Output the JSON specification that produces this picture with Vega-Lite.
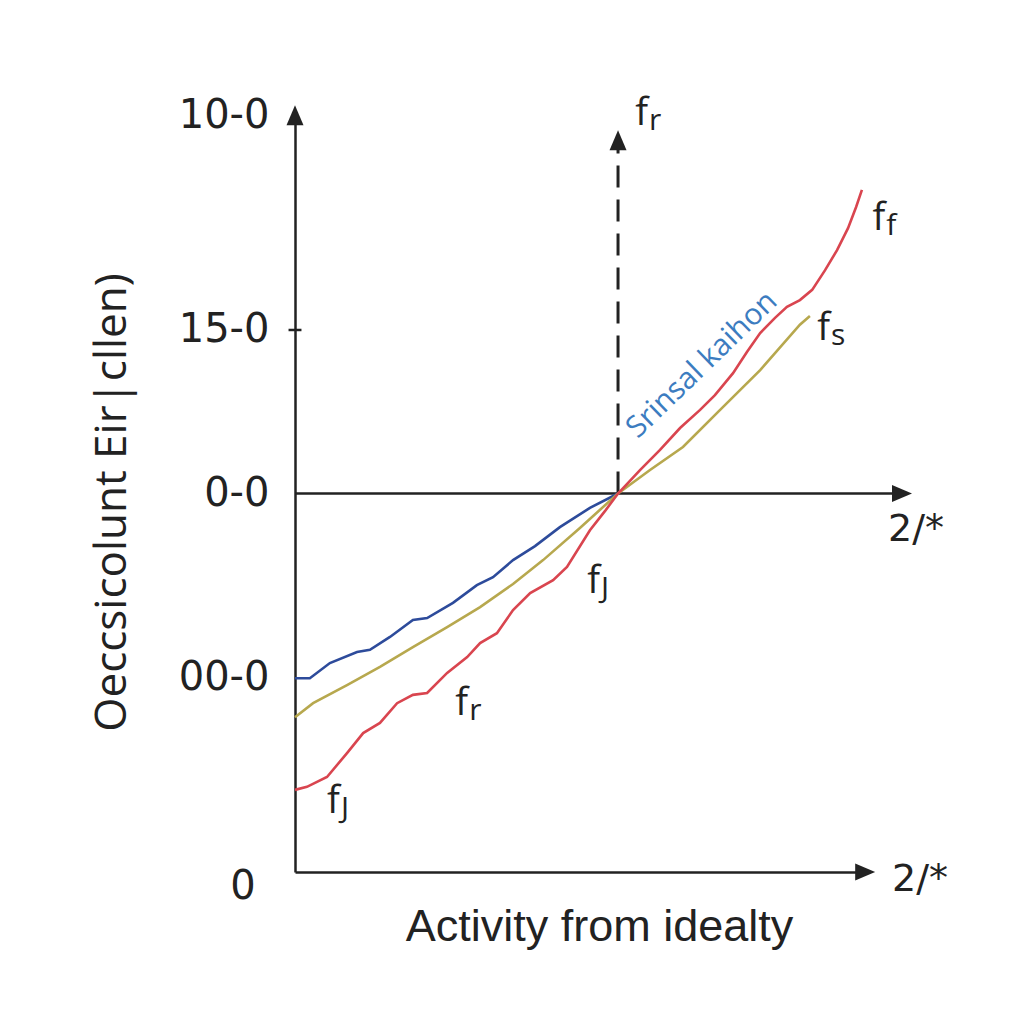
{
  "$schema": "https://vega.github.io/schema/vega-lite/v6.json",
  "width": 575,
  "height": 757,
  "autosize": {"type": "none"},
  "padding": {"left": 295, "top": 115, "right": 154, "bottom": 152},
  "background": "#ffffff",
  "config": {"view": {"stroke": null}},
  "datasets": {
    "lines": [
      {"series": "blue", "x": 0.0, "y": -0.488},
      {"series": "blue", "x": 0.046, "y": -0.488},
      {"series": "blue", "x": 0.108, "y": -0.448},
      {"series": "blue", "x": 0.192, "y": -0.419},
      {"series": "blue", "x": 0.232, "y": -0.413},
      {"series": "blue", "x": 0.294, "y": -0.379},
      {"series": "blue", "x": 0.365, "y": -0.334},
      {"series": "blue", "x": 0.409, "y": -0.329},
      {"series": "blue", "x": 0.489, "y": -0.289},
      {"series": "blue", "x": 0.563, "y": -0.242},
      {"series": "blue", "x": 0.613, "y": -0.221},
      {"series": "blue", "x": 0.675, "y": -0.176},
      {"series": "blue", "x": 0.743, "y": -0.139},
      {"series": "blue", "x": 0.82, "y": -0.089},
      {"series": "blue", "x": 0.913, "y": -0.038},
      {"series": "blue", "x": 1.0, "y": 0.0},
      {"series": "olive", "x": 0.0, "y": -0.591},
      {"series": "olive", "x": 0.056, "y": -0.554},
      {"series": "olive", "x": 0.161, "y": -0.506},
      {"series": "olive", "x": 0.263, "y": -0.458},
      {"series": "olive", "x": 0.365, "y": -0.406},
      {"series": "olive", "x": 0.471, "y": -0.353},
      {"series": "olive", "x": 0.573, "y": -0.3},
      {"series": "olive", "x": 0.675, "y": -0.239},
      {"series": "olive", "x": 0.768, "y": -0.176},
      {"series": "olive", "x": 0.882, "y": -0.091},
      {"series": "olive", "x": 1.0, "y": 0.0},
      {"series": "olive", "x": 1.099, "y": 0.062},
      {"series": "olive", "x": 1.201, "y": 0.123},
      {"series": "olive", "x": 1.316, "y": 0.221},
      {"series": "olive", "x": 1.44, "y": 0.326},
      {"series": "olive", "x": 1.563, "y": 0.446},
      {"series": "olive", "x": 1.594, "y": 0.469},
      {"series": "red", "x": 0.0, "y": -0.783},
      {"series": "red", "x": 0.037, "y": -0.775},
      {"series": "red", "x": 0.099, "y": -0.749},
      {"series": "red", "x": 0.161, "y": -0.686},
      {"series": "red", "x": 0.211, "y": -0.633},
      {"series": "red", "x": 0.263, "y": -0.606},
      {"series": "red", "x": 0.316, "y": -0.554},
      {"series": "red", "x": 0.365, "y": -0.532},
      {"series": "red", "x": 0.409, "y": -0.527},
      {"series": "red", "x": 0.471, "y": -0.474},
      {"series": "red", "x": 0.533, "y": -0.432},
      {"series": "red", "x": 0.573, "y": -0.395},
      {"series": "red", "x": 0.625, "y": -0.369},
      {"series": "red", "x": 0.675, "y": -0.308},
      {"series": "red", "x": 0.728, "y": -0.263},
      {"series": "red", "x": 0.799, "y": -0.229},
      {"series": "red", "x": 0.842, "y": -0.194},
      {"series": "red", "x": 0.913, "y": -0.097},
      {"series": "red", "x": 0.96, "y": -0.046},
      {"series": "red", "x": 1.0, "y": 0.0},
      {"series": "red", "x": 1.068, "y": 0.062},
      {"series": "red", "x": 1.13, "y": 0.115},
      {"series": "red", "x": 1.192, "y": 0.173},
      {"series": "red", "x": 1.254, "y": 0.221},
      {"series": "red", "x": 1.3, "y": 0.26},
      {"series": "red", "x": 1.356, "y": 0.318},
      {"series": "red", "x": 1.399, "y": 0.374},
      {"series": "red", "x": 1.44, "y": 0.424},
      {"series": "red", "x": 1.486, "y": 0.464},
      {"series": "red", "x": 1.523, "y": 0.493},
      {"series": "red", "x": 1.563, "y": 0.511},
      {"series": "red", "x": 1.601, "y": 0.538},
      {"series": "red", "x": 1.641, "y": 0.59},
      {"series": "red", "x": 1.678, "y": 0.643},
      {"series": "red", "x": 1.712, "y": 0.701},
      {"series": "red", "x": 1.737, "y": 0.757},
      {"series": "red", "x": 1.755, "y": 0.802}
    ],
    "hrules": [
      {"x": 0, "x2": 1.889, "y": 0},
      {"x": -0.02, "x2": 0.02, "y": 0.432}
    ],
    "dashed": [{"x": 1.0, "y": 0.0, "y2": 0.91}],
    "upArrows": [{"x": 0.0, "y": 1.026}, {"x": 1.0, "y": 0.96}],
    "rightArrows": [{"x": 1.91, "y": 0.0}, {"x": 1.796, "y": -1.0}],
    "flabels": [
      {"x": 1.093, "y": 0.974, "main": "f", "sub": "r"},
      {"x": 1.827, "y": 0.696, "main": "f", "sub": "f"},
      {"x": 1.656, "y": 0.406, "main": "f", "sub": "s"},
      {"x": 0.944, "y": -0.263, "main": "f", "sub": "J"},
      {"x": 0.536, "y": -0.585, "main": "f", "sub": "r"},
      {"x": 0.139, "y": -0.844, "main": "f", "sub": "J"}
    ],
    "endLabels": [
      {"x": 1.836, "y": -0.097, "label": "2/*"},
      {"x": 1.848, "y": -1.021, "label": "2/*"}
    ],
    "zero": [{"x": -0.161, "y": -1.04, "label": "0"}],
    "curveLabel": [{"x": 1.26, "y": 0.34, "label": "Srinsal kaihon"}]
  },
  "encoding": {
    "x": {
      "field": "x",
      "type": "quantitative",
      "scale": {"domain": [0, 1.78], "nice": false, "zero": false},
      "axis": {
        "domain": true,
        "domainColor": "#222222",
        "domainWidth": 2.5,
        "ticks": false,
        "labels": false,
        "grid": false,
        "title": "Activity from idealty",
        "titleFont": "Liberation Sans",
        "titleFontSize": 45,
        "titleFontWeight": "normal",
        "titleColor": "#222222",
        "titleX": 304,
        "titleY": 68,
        "titleAlign": "center",
        "titleBaseline": "alphabetic"
      }
    },
    "y": {
      "field": "y",
      "type": "quantitative",
      "scale": {"domain": [-1, 1], "nice": false, "zero": false},
      "axis": {
        "domain": true,
        "domainColor": "#222222",
        "domainWidth": 2.5,
        "ticks": false,
        "tickSize": 0,
        "grid": false,
        "values": [1, 0.432, 0, -0.485],
        "labelExpr": "datum.value == 1 ? '10-0' : datum.value == 0.432 ? '15-0' : datum.value == 0 ? '0-0' : '00-0'",
        "labelFont": "DejaVu Sans",
        "labelFontSize": 40,
        "labelColor": "#222222",
        "labelPadding": 26,
        "labelFlush": false,
        "labelOverlap": false,
        "labelBaseline": "middle",
        "title": "Oeccsicolunt Eir|cllen)",
        "titleFont": "Open Sans",
        "titleFontSize": 44,
        "titleFontWeight": "normal",
        "titleColor": "#222222",
        "titleAngle": -90,
        "titleX": -170,
        "titleY": 387,
        "titleAlign": "center",
        "titleBaseline": "alphabetic"
      }
    }
  },
  "layer": [
    {
      "data": {"name": "hrules"},
      "mark": {"type": "rule", "color": "#222222", "strokeWidth": 2.5},
      "encoding": {"x2": {"field": "x2"}}
    },
    {
      "data": {"name": "dashed"},
      "mark": {"type": "rule", "color": "#222222", "strokeWidth": 3, "strokeDash": [22, 12]},
      "encoding": {"y2": {"field": "y2"}}
    },
    {
      "data": {"name": "upArrows"},
      "mark": {"type": "point", "shape": "M0,0L0.425,1L-0.425,1Z", "size": 1600, "filled": true, "color": "#222222", "opacity": 1, "strokeWidth": 0}
    },
    {
      "data": {"name": "rightArrows"},
      "mark": {"type": "point", "shape": "M0,0L-1,-0.425L-1,0.425Z", "size": 1600, "filled": true, "color": "#222222", "opacity": 1, "strokeWidth": 0}
    },
    {
      "data": {"name": "lines"},
      "mark": {"type": "line", "strokeWidth": 2.6},
      "encoding": {
        "color": {
          "field": "series",
          "type": "nominal",
          "scale": {"domain": ["blue", "olive", "red"], "range": ["#2d4b9b", "#b7a84e", "#d9454f"]},
          "legend": null
        }
      }
    },
    {
      "data": {"name": "flabels"},
      "mark": {"type": "text", "font": "Open Sans", "fontSize": 38, "align": "right", "baseline": "alphabetic", "color": "#222222"},
      "encoding": {"text": {"field": "main"}}
    },
    {
      "data": {"name": "flabels"},
      "mark": {"type": "text", "font": "Open Sans", "fontSize": 30, "align": "left", "baseline": "alphabetic", "dx": 1, "dy": 5, "color": "#222222"},
      "encoding": {"text": {"field": "sub"}}
    },
    {
      "data": {"name": "endLabels"},
      "mark": {"type": "text", "font": "DejaVu Sans", "fontSize": 38, "align": "left", "baseline": "middle", "color": "#222222"},
      "encoding": {"text": {"field": "label"}}
    },
    {
      "data": {"name": "zero"},
      "mark": {"type": "text", "font": "DejaVu Sans", "fontSize": 40, "align": "center", "baseline": "middle", "color": "#222222"},
      "encoding": {"text": {"field": "label"}}
    },
    {
      "data": {"name": "curveLabel"},
      "mark": {"type": "text", "font": "Open Sans", "fontSize": 30, "align": "center", "baseline": "middle", "angle": -44, "color": "#3c7cc0"},
      "encoding": {"text": {"field": "label"}}
    }
  ]
}
